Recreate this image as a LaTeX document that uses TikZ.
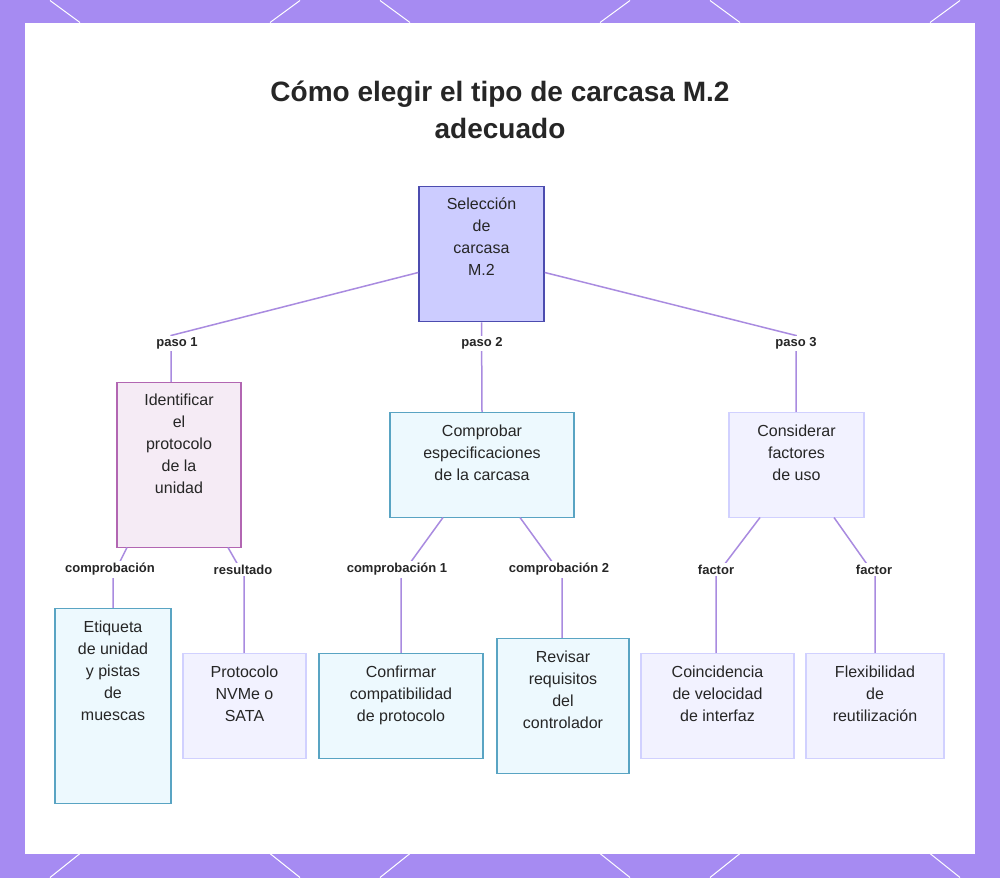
\documentclass[tikz,border=0pt]{standalone}
\usepackage{fontspec}
\setmainfont{Liberation Sans}
\definecolor{lin}{HTML}{A98BE0}
\definecolor{frm}{HTML}{A68BF2}
\begin{document}
\begin{tikzpicture}[x=1pt,y=-1pt,
 box/.style={draw,line width=1.5pt,inner sep=0pt},
 tx/.style={font=\fontsize{16}{22}\selectfont,align=center,text=black!85,anchor=north,inner sep=0pt},
 rootc/.style={box,fill=blue!20!white,draw=blue!55!black!70},
 pur/.style={box,fill=violet!8,draw=violet!60},
 cy/.style={box,fill=cyan!7,draw=cyan!70!black!80},
 lt/.style={box,fill=blue!5,draw=blue!18},
 lab/.style={fill=white,inner sep=2pt,font=\bfseries\fontsize{13}{15}\selectfont,text=black!85},
 con/.style={draw=lin,line width=1.5pt}]
\fill[frm] (0,0) rectangle (1000,877);
\foreach \a in {0,330,660}{\draw[white,line width=1pt] (\a+50,0)--(\a+80,22) (\a+300,0)--(\a+270,22) (\a+50,877)--(\a+80,853) (\a+300,877)--(\a+270,853);}
\fill[white] (25,22) rectangle (975,853);
\useasboundingbox (0,0) rectangle (1000,877);
\node[font=\bfseries\fontsize{28}{37}\selectfont,align=center,text=black!85] (t) at (500,109) {Cómo elegir el tipo de carcasa M.2\\adecuado};
\node[rootc,minimum width=125pt,minimum height=135pt] (r) at (481.5,253.5) {};
\node[tx] at (r.north) [yshift=-12pt] {Selección\\de\\carcasa\\M.2};
\node[pur,minimum width=124pt,minimum height=165pt] (n1) at (179,464.5) {};
\node[tx] at (n1.north) [yshift=-12pt] {Identificar\\el\\protocolo\\de la\\unidad};
\node[cy,minimum width=184pt,minimum height=105pt] (n2) at (482,464.5) {};
\node[tx] at (n2.north) [yshift=-13pt] {Comprobar\\especificaciones\\de la carcasa};
\node[lt,minimum width=135pt,minimum height=105pt] (n3) at (796.5,464.5) {};
\node[tx] at (n3.north) [yshift=-13pt] {Considerar\\factores\\de uso};
\node[cy,minimum width=116pt,minimum height=195pt] (l1) at (113,705.5) {};
\node[tx] at (l1.north) [yshift=-13pt] {Etiqueta\\de unidad\\y pistas\\de\\muescas};
\node[lt,minimum width=123pt,minimum height=105pt] (l2) at (244.5,705.5) {};
\node[tx] at (l2.north) [yshift=-13pt] {Protocolo\\NVMe o\\SATA};
\node[cy,minimum width=164pt,minimum height=105pt] (l3) at (401,705.5) {};
\node[tx] at (l3.north) [yshift=-13pt] {Confirmar\\compatibilidad\\de protocolo};
\node[cy,minimum width=132pt,minimum height=135pt] (l4) at (563,705.5) {};
\node[tx] at (l4.north) [yshift=-13pt] {Revisar\\requisitos\\del\\controlador};
\node[lt,minimum width=153pt,minimum height=105pt] (l5) at (717.5,705.5) {};
\node[tx] at (l5.north) [yshift=-13pt] {Coincidencia\\de velocidad\\de interfaz};
\node[lt,minimum width=138pt,minimum height=105pt] (l6) at (875,705.5) {};
\node[tx] at (l6.north) [yshift=-13pt] {Flexibilidad\\de\\reutilización};
\coordinate (b1) at (171,335); \coordinate (b3) at (796,335);
\draw[con] (r.west|-0,272) -- (b1) -- (n1.north-|b1);
\draw[con] (r.east|-0,272) -- (b3) -- (n3.north-|b3);
\draw[con] (r.south) -- (n2.north);
\coordinate (c1) at (113,575); \coordinate (c2) at (244,575);
\coordinate (c3) at (401,575); \coordinate (c4) at (562,575);
\coordinate (c5) at (716,575); \coordinate (c6) at (875,575);
\draw[con] (127,547) -- (c1) -- (l1.north-|c1);
\draw[con] (228,547) -- (c2) -- (l2.north-|c2);
\draw[con] (443,517) -- (c3) -- (l3.north-|c3);
\draw[con] (520,517) -- (c4) -- (l4.north-|c4);
\draw[con] (760,517) -- (c5) -- (l5.north-|c5);
\draw[con] (834,517) -- (c6) -- (l6.north-|c6);
\node[lab] (p1) at (177,343) {paso 1};
\node[lab] (p2) at (482,343) {paso 2};
\node[lab] (p3) at (796,343) {paso 3};
\node[lab] at (110,569) {comprobación};
\node[lab] at (243,569) {resultado};
\node[lab] at (397,569) {comprobación 1};
\node[lab] at (559,569) {comprobación 2};
\node[lab] at (716,569) {factor};
\node[lab] at (874,569) {factor};
\end{tikzpicture}
\end{document}
